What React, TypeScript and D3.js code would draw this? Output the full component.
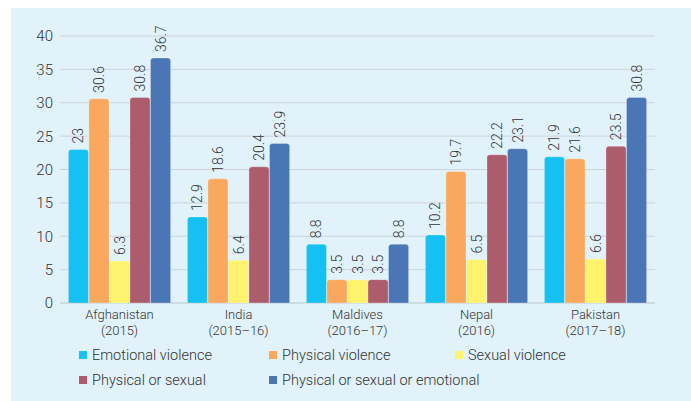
import * as d3 from 'd3';
import { useEffect, useRef } from 'react';

const width = 691;
const height = 401;

const countries = ['Afghanistan', 'India', 'Maldives', 'Nepal', 'Pakistan'];
const years = ['(2015)', '(2015–16)', '(2016–17)', '(2016)', '(2017–18)'];
const seriesNames = [
  'Emotional violence',
  'Physical violence',
  'Sexual violence',
  'Physical or sexual',
  'Physical or sexual or emotional',
];
const seriesColors = ['#14c1f2', '#f9a85d', '#fff36e', '#ad5c6c', '#4a76b6'];

const emotional = [23, 12.9, 8.8, 10.2, 21.9];
const physical = [30.6, 18.6, 3.5, 19.7, 21.6];
const sexual = [6.3, 6.4, 3.5, 6.5, 6.6];
const physOrSex = [30.8, 20.4, 3.5, 22.2, 23.5];
const physOrSexOrEmo = [36.7, 23.9, 8.8, 23.1, 30.8];
const yTicks = [0, 5, 10, 15, 20, 25, 30, 35, 40];

const series = [emotional, physical, sexual, physOrSex, physOrSexOrEmo];

export default function App() {
  const svgRef = useRef<SVGSVGElement>(null);

  useEffect(() => {
    const svg = d3.select(svgRef.current);
    svg.selectAll('*').remove();

    const margin = { top: 36, right: 36, bottom: 98, left: 60 };
    const font = 'Roboto, "Liberation Sans", sans-serif';
    const ink = '#333';

    svg
      .append('rect')
      .attr('x', 11)
      .attr('y', 8)
      .attr('width', width - 11)
      .attr('height', height - 8)
      .attr('fill', '#e1f2fa');

    const x0 = d3
      .scaleBand<number>()
      .domain(d3.range(countries.length))
      .range([margin.left, width - margin.right])
      .paddingInner(0.134)
      .paddingOuter(0.067);

    const x1 = d3
      .scaleBand<number>()
      .domain(d3.range(series.length))
      .range([0, x0.bandwidth()])
      .padding(0.02);

    const y = d3
      .scaleLinear()
      .domain([0, 40])
      .range([height - margin.bottom, margin.top]);

    // grid
    svg
      .append('g')
      .selectAll('line')
      .data(yTicks)
      .join('line')
      .attr('x1', margin.left)
      .attr('x2', width - margin.right)
      .attr('y1', (d) => y(d))
      .attr('y2', (d) => y(d))
      .attr('stroke', (d) => (d === 0 ? '#b8c4cc' : '#cdd3d8'))
      .attr('stroke-width', 1);

    svg
      .append('g')
      .selectAll('text')
      .data(yTicks)
      .join('text')
      .attr('x', 53)
      .attr('y', (d) => y(d))
      .attr('dy', '0.36em')
      .attr('text-anchor', 'end')
      .attr('font-family', font)
      .attr('font-weight', 300)
      .attr('font-size', 15)
      .attr('fill', ink)
      .text((d) => d);

    const r = 3;
    const barPath = (bx: number, by: number, bw: number, bh: number) => {
      const rr = Math.min(r, bh);
      return `M${bx},${by + bh}V${by + rr}Q${bx},${by} ${bx + rr},${by}H${bx + bw - rr}Q${bx + bw},${by} ${bx + bw},${by + rr}V${by + bh}Z`;
    };

    const groups = svg
      .append('g')
      .selectAll('g')
      .data(countries.map((_, i) => i))
      .join('g')
      .attr('transform', (i) => `translate(${x0(i)},0)`);

    groups
      .selectAll('path')
      .data((i) => series.map((s, k) => ({ k, v: s[i] })))
      .join('path')
      .attr('d', (d) =>
        barPath(x1(d.k)!, y(d.v), x1.bandwidth(), y(0) - y(d.v))
      )
      .attr('fill', (d) => seriesColors[d.k])
      .attr('stroke', 'rgba(255,255,255,0.35)')
      .attr('stroke-width', 0.8);

    groups
      .selectAll('text')
      .data((i) => series.map((s, k) => ({ k, v: s[i] })))
      .join('text')
      .attr('transform', (d) => {
        const cx = x1(d.k)! + x1.bandwidth() / 2;
        return `translate(${cx},${y(d.v) - 6}) rotate(-90)`;
      })
      .attr('dy', '0.36em')
      .attr('text-anchor', 'start')
      .attr('font-family', font)
      .attr('font-weight', 300)
      .attr('font-size', 14)
      .attr('fill', ink)
      .text((d) => d.v);

    // category labels
    const cat = svg
      .append('g')
      .selectAll('text')
      .data(countries.map((_, i) => i))
      .join('text')
      .attr('text-anchor', 'middle')
      .attr('font-family', font)
      .attr('font-weight', 300)
      .attr('font-size', 13)
      .attr('fill', ink);
    cat
      .append('tspan')
      .attr('x', (i) => x0(i)! + x0.bandwidth() / 2)
      .attr('y', 319)
      .text((i) => countries[i]);
    cat
      .append('tspan')
      .attr('x', (i) => x0(i)! + x0.bandwidth() / 2)
      .attr('y', 335)
      .text((i) => years[i]);

    // legend
    const legendPos = [
      [79, 355],
      [269, 355],
      [455, 355],
      [79, 380],
      [269, 380],
    ];
    const legend = svg
      .append('g')
      .selectAll('g')
      .data(seriesNames.map((n, k) => ({ n, k })))
      .join('g')
      .attr('transform', (d) => `translate(${legendPos[d.k][0]},${legendPos[d.k][1]})`);
    legend
      .append('rect')
      .attr('x', 0)
      .attr('y', -4)
      .attr('width', 8)
      .attr('height', 8)
      .attr('fill', (d) => seriesColors[d.k]);
    legend
      .append('text')
      .attr('x', 13)
      .attr('y', 0)
      .attr('dy', '0.36em')
      .attr('font-family', font)
      .attr('font-weight', 300)
      .attr('font-size', 14.5)
      .attr('fill', ink)
      .text((d) => d.n);
  }, []);

  return (
    <svg
      ref={svgRef}
      width={width}
      height={height}
      style={{ position: 'absolute', left: 0, top: 0, background: '#fff' }}
    />
  );
}
